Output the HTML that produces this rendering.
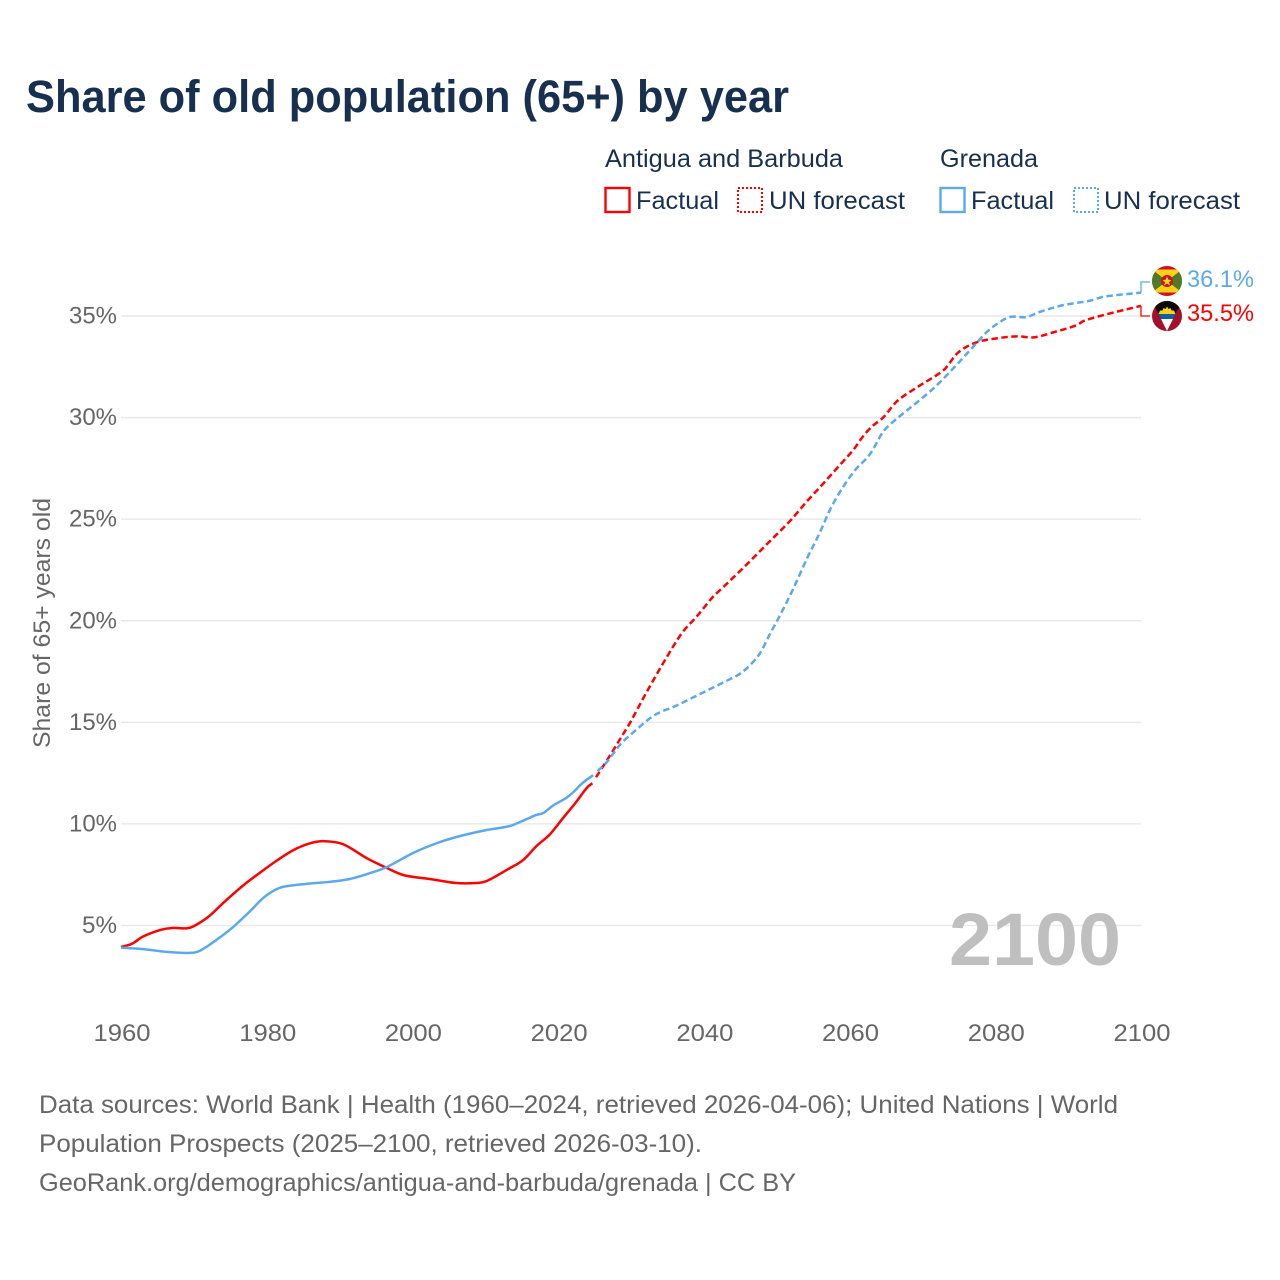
<!DOCTYPE html>
<html lang="en">
<head>
<meta charset="utf-8">
<title>Share of old population (65+) by year</title>
<style>
html,body{margin:0;padding:0;background:#fff;}
svg{display:block;}
text{font-family:"Liberation Sans",sans-serif;}
</style>
</head>
<body>
<svg id="chart" xmlns="http://www.w3.org/2000/svg" width="1280" height="1280" viewBox="0 0 1280 1280">
  <defs>
    <clipPath id="clip-gd"><circle cx="1167" cy="281" r="15"/></clipPath>
    <clipPath id="clip-ag"><circle cx="1167" cy="316" r="15"/></clipPath>
  </defs>
  <rect x="0" y="0" width="1280" height="1280" fill="#fff"/>

  <text x="26" y="112" font-size="45" font-weight="700" fill="#18304f" textLength="763" lengthAdjust="spacingAndGlyphs">Share of old population (65+) by year</text>

  <g font-size="25" fill="#18304f">
    <text x="605" y="167" textLength="238" lengthAdjust="spacingAndGlyphs">Antigua and Barbuda</text>
    <rect x="605.500" y="188" width="24" height="24" fill="none" stroke="#ff0000" stroke-width="2.400"/>
    <text x="636" y="209" textLength="83" lengthAdjust="spacingAndGlyphs">Factual</text>
    <rect x="738" y="188" width="24" height="24" fill="none" stroke="#ff0000" stroke-width="2" stroke-dasharray="2 2"/>
    <text x="769" y="209" textLength="136" lengthAdjust="spacingAndGlyphs">UN forecast</text>
    <text x="940" y="167" textLength="98" lengthAdjust="spacingAndGlyphs">Grenada</text>
    <rect x="940.500" y="188" width="24" height="24" fill="none" stroke="#5ba8ee" stroke-width="2.400"/>
    <text x="971" y="209" textLength="83" lengthAdjust="spacingAndGlyphs">Factual</text>
    <rect x="1074" y="188" width="24" height="24" fill="none" stroke="#5ba8ee" stroke-width="2" stroke-dasharray="2 2"/>
    <text x="1104" y="209" textLength="136" lengthAdjust="spacingAndGlyphs">UN forecast</text>
  </g>

  <text transform="translate(50,748) rotate(-90)" font-size="24" fill="#666" textLength="250" lengthAdjust="spacingAndGlyphs">Share of 65+ years old</text>

  <g id="grid"></g>
  <g id="y-ticks"></g>
  <g id="x-ticks"></g>

  <text x="949" y="965" font-size="74" font-weight="700" fill="#bfbfbf" textLength="172" lengthAdjust="spacingAndGlyphs">2100</text>

  <g id="series"></g>

  <g clip-path="url(#clip-gd)">
    <rect x="1152" y="266" width="30" height="30" fill="#ce1126"/>
    <rect x="1152" y="269.500" width="30" height="23" fill="#fcd116"/>
    <polygon points="1152,269.500 1167,281 1152,292.500" fill="#4f7a28"/>
    <polygon points="1182,269.500 1167,281 1182,292.500" fill="#4f7a28"/>
    <circle cx="1167" cy="281" r="6" fill="#ce1126"/>
    <polygon points="1167,276.500 1168.400,279.800 1171.500,280 1169,282.200 1170,285.500 1167,283.600 1164,285.500 1165,282.200 1162.500,280 1165.600,279.800" fill="#fcd116"/>
  </g>
  <g clip-path="url(#clip-ag)">
    <rect x="1152" y="301" width="30" height="30" fill="#a50f2a"/>
    <polygon points="1152,301 1182,301 1167,331" fill="#0a0a0a"/>
    <polygon points="1158.500,314 1160,310.500 1162.500,310.500 1163.500,308 1165.500,309 1167,306.500 1168.500,309 1170.500,308 1171.500,310.500 1174,310.500 1175.500,314" fill="#fcd116"/>
    <polygon points="1158.500,314 1175.500,314 1173,319 1161,319" fill="#0b61a4"/>
    <polygon points="1161,319 1173,319 1167,331" fill="#ffffff"/>
  </g>

  <g font-size="25" fill="#666">
    <text x="39" y="1113" textLength="1079" lengthAdjust="spacingAndGlyphs">Data sources: World Bank | Health (1960–2024, retrieved 2026-04-06); United Nations | World</text>
    <text x="39" y="1152" textLength="663" lengthAdjust="spacingAndGlyphs">Population Prospects (2025–2100, retrieved 2026-03-10).</text>
    <text x="39" y="1191" textLength="757" lengthAdjust="spacingAndGlyphs">GeoRank.org/demographics/antigua-and-barbuda/grenada | CC BY</text>
  </g>
</svg>

<script>
var yTickValues = [5, 10, 15, 20, 25, 30, 35];
var yTickLabels = ["5%", "10%", "15%", "20%", "25%", "30%", "35%"];
var xTickValues = [1960, 1980, 2000, 2020, 2040, 2060, 2080, 2100];
var xTickLabels = ["1960", "1980", "2000", "2020", "2040", "2060", "2080", "2100"];

var antiguaFactualYears = [1960, 1961.5, 1963, 1965.4, 1967, 1969, 1970, 1972, 1974, 1976.7, 1979, 1981.4, 1983.6, 1986, 1988, 1990.5, 1993.8, 1996.5, 1998.8, 2002.4, 2006, 2008.8, 2010.2, 2013.4, 2015.2, 2017, 2018.9, 2020.7, 2022.3, 2024, 2024.7];
var antiguaFactualValues = [3.94, 4.1, 4.45, 4.78, 4.88, 4.86, 4.97, 5.43, 6.1, 6.95, 7.58, 8.2, 8.7, 9.05, 9.15, 9.0, 8.3, 7.83, 7.48, 7.29, 7.09, 7.09, 7.19, 7.83, 8.22, 8.9, 9.5, 10.3, 11.0, 11.8, 12.0];
var antiguaForecastYears = [2025.2, 2027, 2028.2, 2029.9, 2031.7, 2034.4, 2037, 2039, 2041.3, 2042.2, 2045.4, 2049.3, 2051.8, 2054.2, 2056, 2059, 2060.5, 2061.9, 2063.2, 2064.6, 2066.5, 2069.3, 2072, 2073.1, 2074.9, 2077.4, 2080.2, 2083, 2085.3, 2088, 2091.2, 2092.1, 2094.9, 2100];
var antiguaForecastValues = [12.3, 13.3, 14.0, 15.0, 16.2, 17.9, 19.4, 20.2, 21.2, 21.5, 22.6, 24.0, 24.9, 25.9, 26.6, 27.8, 28.4, 29.1, 29.6, 30.0, 30.8, 31.5, 32.1, 32.4, 33.2, 33.7, 33.9, 34.0, 33.95, 34.2, 34.55, 34.75, 35.05, 35.5];

var grenadaFactualYears = [1960, 1963, 1966.3, 1969.5, 1970.8, 1973.1, 1975.4, 1977.7, 1979.5, 1980.9, 1982.2, 1985.5, 1988.7, 1991.4, 1994.2, 1996.5, 2000.1, 2003.4, 2006.5, 2010.2, 2013.4, 2015.7, 2017, 2018, 2019.2, 2021.2, 2022.1, 2023.3, 2024.8];
var grenadaFactualValues = [3.91, 3.84, 3.7, 3.65, 3.75, 4.29, 4.93, 5.7, 6.35, 6.7, 6.9, 7.05, 7.15, 7.29, 7.58, 7.88, 8.57, 9.06, 9.4, 9.7, 9.9, 10.24, 10.44, 10.54, 10.88, 11.3, 11.57, 12.0, 12.4];
var grenadaForecastYears = [2025.4, 2026.7, 2028.5, 2030.3, 2032.6, 2034, 2035.8, 2039.5, 2044, 2045, 2046.3, 2047.7, 2049, 2050.5, 2052.3, 2054.2, 2055.6, 2057.8, 2060.5, 2062.8, 2064.6, 2066, 2070.1, 2072, 2074.7, 2077, 2078.8, 2080.2, 2082, 2084.3, 2086.1, 2088.9, 2091.2, 2093, 2094.9, 2100];
var grenadaForecastValues = [12.6, 13.05, 13.9, 14.5, 15.2, 15.5, 15.75, 16.4, 17.2, 17.4, 17.8, 18.4, 19.3, 20.3, 21.6, 23.1, 24.1, 25.8, 27.3, 28.2, 29.3, 29.8, 31.0, 31.6, 32.6, 33.5, 34.2, 34.6, 34.95, 34.95, 35.2, 35.5, 35.65, 35.75, 35.95, 36.15];

var endValueLabels = ["35.5%", "36.1%"];

var NS = "http://www.w3.org/2000/svg";
var RED = "#ff0000";
var BLUE = "#5ba8ee";

function xScale(year) {
  return 121 + (year - 1960) * (1141 - 121) / (2100 - 1960);
}
function yScale(value) {
  return 925.5 - (value - 5) * (925.5 - 316) / (35 - 5);
}
function make(tag, attrs, parent) {
  var el = document.createElementNS(NS, tag);
  Object.keys(attrs).forEach(function (k) { el.setAttribute(k, attrs[k]); });
  parent.appendChild(el);
  return el;
}
function smoothPath(years, values) {
  var px = years.map(xScale);
  var py = values.map(yScale);
  var n = px.length;
  var slopes = px.map(function (x, i) {
    var a = Math.max(i - 1, 0);
    var b = Math.min(i + 1, n - 1);
    return (py[b] - py[a]) / (px[b] - px[a]);
  });
  var d = "M" + px[0].toFixed(2) + " " + py[0].toFixed(2);
  for (var i = 0; i < n - 1; i++) {
    var dx = (px[i + 1] - px[i]) / 3;
    d += "C" + (px[i] + dx).toFixed(2) + " " + (py[i] + slopes[i] * dx).toFixed(2) + " " +
      (px[i + 1] - dx).toFixed(2) + " " + (py[i + 1] - slopes[i + 1] * dx).toFixed(2) + " " +
      px[i + 1].toFixed(2) + " " + py[i + 1].toFixed(2);
  }
  return d;
}

var gridGroup = document.getElementById("grid");
var yTickGroup = document.getElementById("y-ticks");
var xTickGroup = document.getElementById("x-ticks");
var seriesGroup = document.getElementById("series");

yTickValues.forEach(function (v, i) {
  var line = make("line", { x1: 121, x2: 1141, y1: yScale(v), y2: yScale(v), stroke: "#e9e9e9", "stroke-width": 1.5 }, gridGroup);
  
  
  var label = make("text", { x: 117, y: yScale(v) + 7.5, "text-anchor": "end", "font-size": 24, fill: "#666", textLength: (yTickLabels[i].length - 1) * 13 + 22, lengthAdjust: "spacingAndGlyphs" }, yTickGroup);
  
  
  label.textContent = yTickLabels[i];
});

xTickValues.forEach(function (yr, i) {
  var label = make("text", { x: xScale(yr) + 1, y: 1041, "text-anchor": "middle", "font-size": 24, fill: "#666", textLength: 57, lengthAdjust: "spacingAndGlyphs" }, xTickGroup);
  
  
  label.textContent = xTickLabels[i];
});

function drawLine(years, values, color, dashed, name) {
  var attrs = { d: smoothPath(years, values), fill: "none", stroke: color, "stroke-width": 2.5, "stroke-linejoin": "round" };
  if (dashed) { attrs["stroke-dasharray"] = "6.5 3.5"; }
  var line = make("path", attrs, seriesGroup);
  
  
}

drawLine(antiguaFactualYears, antiguaFactualValues, RED, false, 'antigua-factual-line');
drawLine(antiguaForecastYears, antiguaForecastValues, RED, true, 'antigua-forecast-line');
drawLine(grenadaFactualYears, grenadaFactualValues, BLUE, false, 'grenada-factual-line');
drawLine(grenadaForecastYears, grenadaForecastValues, BLUE, true, 'grenada-forecast-line');

function drawEnd(years, values, color, flagY, text, name) {
  var lastYear = years[years.length - 1];
  var lastValue = values[values.length - 1];
  var ex = xScale(lastYear);
  var ey = yScale(lastValue);
  var connector = make("polyline", { points: ex + "," + ey + " " + ex + "," + flagY + " 1150," + flagY, fill: "none", stroke: color, "stroke-width": 1.3 }, seriesGroup);
  
  
  var label = make("text", { x: 1187, y: flagY + 5, "font-size": 24, fill: color, textLength: 67, lengthAdjust: "spacingAndGlyphs" }, seriesGroup);
  
  
  label.textContent = text;
}

drawEnd(antiguaForecastYears, antiguaForecastValues, RED, 316, endValueLabels[0], 'antigua');
drawEnd(grenadaForecastYears, grenadaForecastValues, BLUE, 282, endValueLabels[1], 'grenada');
</script>
</body>
</html>
